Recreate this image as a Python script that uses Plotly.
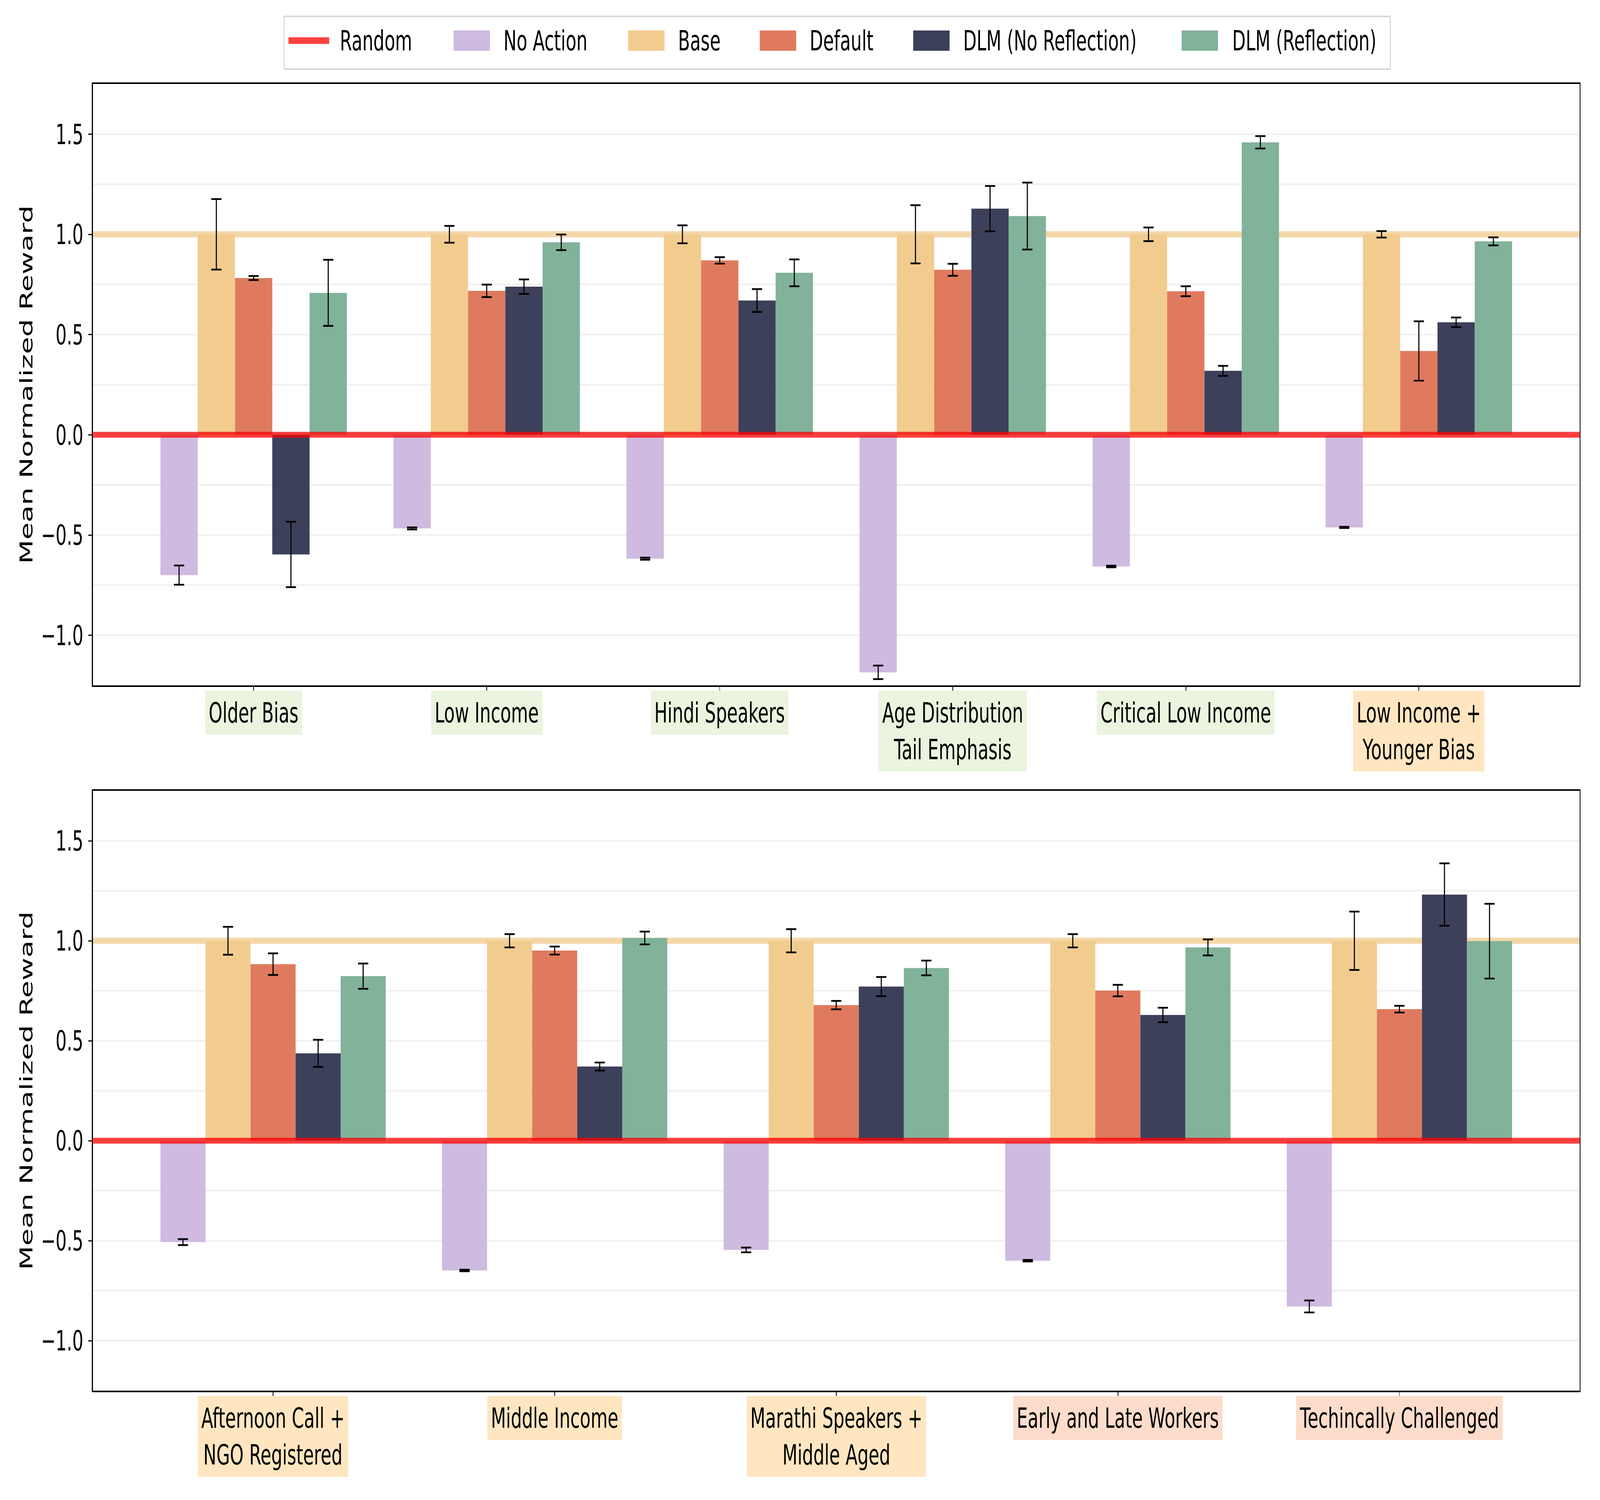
import plotly.graph_objects as go

# ---------------- data ----------------
series_names = ["No Action", "Base", "Default", "DLM (No Reflection)", "DLM (Reflection)"]
series_colors = ["#CFBAE0", "#F2CC8F", "#E07A5F", "#3D405B", "#81B29A"]

top_categories = ["Older Bias", "Low Income", "Hindi Speakers",
                  "Age Distribution\nTail Emphasis", "Critical Low Income",
                  "Low Income +\nYounger Bias"]
top_label_colors = ["#EAF4DE", "#EAF4DE", "#EAF4DE", "#EAF4DE", "#EAF4DE", "#FFE6C0"]

no_action_top = [-0.700, -0.467, -0.618, -1.185, -0.657, -0.462]
no_action_top_err = [0.048, 0.005, 0.005, 0.034, 0.004, 0.003]
base_top = [1.0, 1.0, 1.0, 1.0, 1.0, 1.0]
base_top_err = [0.176, 0.042, 0.045, 0.145, 0.034, 0.016]
default_top = [0.782, 0.718, 0.870, 0.823, 0.716, 0.418]
default_top_err = [0.010, 0.031, 0.016, 0.030, 0.025, 0.148]
dlm_noref_top = [-0.597, 0.739, 0.670, 1.128, 0.319, 0.561]
dlm_noref_top_err = [0.163, 0.036, 0.057, 0.113, 0.025, 0.024]
dlm_ref_top = [0.708, 0.960, 0.808, 1.091, 1.459, 0.965]
dlm_ref_top_err = [0.165, 0.039, 0.067, 0.167, 0.031, 0.020]

bottom_categories = ["Afternoon Call +\nNGO Registered", "Middle Income",
                     "Marathi Speakers +\nMiddle Aged", "Early and Late Workers",
                     "Techincally Challenged"]
bottom_label_colors = ["#FFE6C0", "#FFE6C0", "#FFE6C0", "#FDDCCB", "#FDDCCB"]

no_action_bot = [-0.507, -0.649, -0.546, -0.600, -0.829]
no_action_bot_err = [0.015, 0.004, 0.012, 0.004, 0.030]
base_bot = [1.0, 1.0, 1.0, 1.0, 1.0]
base_bot_err = [0.070, 0.033, 0.058, 0.033, 0.146]
default_bot = [0.883, 0.951, 0.678, 0.751, 0.658]
default_bot_err = [0.054, 0.020, 0.021, 0.029, 0.017]
dlm_noref_bot = [0.437, 0.371, 0.771, 0.629, 1.231]
dlm_noref_bot_err = [0.068, 0.020, 0.048, 0.036, 0.156]
dlm_ref_bot = [0.823, 1.014, 0.864, 0.967, 0.998]
dlm_ref_bot_err = [0.063, 0.032, 0.037, 0.040, 0.187]

random_level = 0.0
base_level = 1.0
y_ticks = [-1.0, -0.5, 0.0, 0.5, 1.0, 1.5]
grid_levels = [-1.0, -0.75, -0.5, -0.25, 0.0, 0.25, 0.5, 0.75, 1.0, 1.25, 1.5]
y_title = "Mean Normalized Reward"

# ---------------- layout geometry ----------------
W, H = 6600, 3841
ML, MR, MT, MB = 383, 84, 215, 280
PW, PH = W - ML - MR, H - MT - MB
FONT = "DejaVu Sans"
FS = 72


def px_x(X):
    return (X - ML) / PW


def px_y(Y):
    return (H - MB - Y) / PH


BAR_W = 0.16

fig = go.Figure()

panels = [
    ("x", "y", top_categories, top_label_colors,
     [no_action_top, base_top, default_top, dlm_noref_top, dlm_ref_top],
     [no_action_top_err, base_top_err, default_top_err, dlm_noref_top_err, dlm_ref_top_err]),
    ("x2", "y2", bottom_categories, bottom_label_colors,
     [no_action_bot, base_bot, default_bot, dlm_noref_bot, dlm_ref_bot],
     [no_action_bot_err, base_bot_err, default_bot_err, dlm_noref_bot_err, dlm_ref_bot_err]),
]

annotations = []
shapes = []

for xa, ya, cats, lcols, vals, errs in panels:
    xs = list(range(len(cats)))
    for k, (name, col) in enumerate(zip(series_names, series_colors)):
        fig.add_trace(go.Bar(
            x=xs, y=vals[k], name=name, xaxis=xa, yaxis=ya,
            width=BAR_W, offset=-2.5 * BAR_W + k * BAR_W,
            marker=dict(color=col, line=dict(width=0)),
            error_y=dict(type="data", array=errs[k], symmetric=True,
                         color="black", thickness=4.5, width=21),
            showlegend=False,
        ))
    # light grid (as shapes so the reference lines sit above it)
    for g in grid_levels:
        shapes.append(dict(type="line", xref=f"{xa} domain", yref=ya, x0=0, x1=1,
                           y0=g, y1=g, layer="below",
                           line=dict(color="#F0F0F0", width=4)))
    # reference lines
    shapes.append(dict(type="line", xref=f"{xa} domain", yref=ya, x0=0, x1=1,
                       y0=base_level, y1=base_level, layer="below",
                       line=dict(color="rgba(242,204,143,0.75)", width=16)))
    shapes.append(dict(type="line", xref=f"{xa} domain", yref=ya, x0=0, x1=1,
                       y0=random_level, y1=random_level, layer="above",
                       line=dict(color="rgba(255,0,0,0.75)", width=15)))
    # category labels with coloured boxes
    for i, (c, bg) in enumerate(zip(cats, lcols)):
        annotations.append(dict(
            x=i, xref=xa, y=0, yref=f"{ya} domain", yanchor="top", xanchor="center",
            yshift=-13, text=c.replace("\n", "<br>"), showarrow=False,
            bgcolor=bg, borderpad=14, align="center",
            font=dict(family=FONT, size=FS, color="black")))

# ---------------- legend (drawn to match the reference's handle sizes) ----------------
shapes.append(dict(type="rect", xref="paper", yref="paper",
                   x0=px_x(1172), x1=px_x(5735), y0=px_y(177), y1=px_y(42),
                   line=dict(color="#D6D6D6", width=4), fillcolor="white", layer="above"))
leg_y = px_y(104)
shapes.append(dict(type="line", xref="paper", yref="paper",
                   x0=px_x(1190), x1=px_x(1358), y0=leg_y, y1=leg_y,
                   line=dict(color="rgba(255,0,0,0.75)", width=17), layer="above"))
annotations.append(dict(x=px_x(1400), y=leg_y, xref="paper", yref="paper",
                        xanchor="left", yanchor="middle", text="Random", showarrow=False,
                        font=dict(family=FONT, size=FS, color="black")))
patch_x = [1871, 2591, 3134, 3767, 4874]
text_x = [2075, 2795, 3338, 3971, 5081]
for name, col, px0, tx in zip(series_names, series_colors, patch_x, text_x):
    shapes.append(dict(type="rect", xref="paper", yref="paper",
                       x0=px_x(px0), x1=px_x(px0 + 150), y0=px_y(130), y1=px_y(78),
                       line=dict(width=0), fillcolor=col, layer="above"))
    annotations.append(dict(x=px_x(tx), y=leg_y, xref="paper", yref="paper",
                            xanchor="left", yanchor="middle", text=name, showarrow=False,
                            font=dict(family=FONT, size=FS, color="black")))

# ---------------- axes ----------------
top_dom = [px_y(1755), px_y(215)]
bot_dom = [px_y(3561), px_y(2025)]


def xaxis_cfg(n, anchor):
    return dict(range=[-0.4 - 0.05 * (n - 1 + 0.8), n - 1 + 0.4 + 0.05 * (n - 1 + 0.8)],
                domain=[0, 1], anchor=anchor, tickmode="array", tickvals=list(range(n)),
                showticklabels=False, ticks="outside", ticklen=15, tickwidth=3,
                tickcolor="black", showline=True, linecolor="black", linewidth=3.5,
                mirror=True, showgrid=False, zeroline=False, fixedrange=True)


def yaxis_cfg(anchor, dom):
    return dict(range=[-1.25, 1.75], domain=dom, anchor=anchor, tickmode="array",
                tickvals=y_ticks, tickformat=".1f", ticks="outside", ticklen=15,
                tickwidth=3, tickcolor="black", ticklabelstandoff=6,
                tickfont=dict(family=FONT, size=FS, color="black"),
                showline=True, linecolor="black", linewidth=3.5, mirror=True,
                showgrid=False, zeroline=False,
                title=dict(text=y_title, standoff=12,
                           font=dict(family=FONT, size=FS, color="black")))


fig.update_layout(
    width=W, height=H,
    margin=dict(l=ML, r=MR, t=MT, b=MB, autoexpand=False),
    paper_bgcolor="white", plot_bgcolor="white",
    font=dict(family=FONT, size=FS, color="black"),
    barmode="overlay",
    showlegend=False,
    xaxis=xaxis_cfg(len(top_categories), "y"),
    yaxis=yaxis_cfg("x", top_dom),
    xaxis2=xaxis_cfg(len(bottom_categories), "y2"),
    yaxis2=yaxis_cfg("x2", bot_dom),
    shapes=shapes,
    annotations=annotations,
)

# Fit the 6600x3841 figure into whatever viewport the browser really provides
# (scale 1:1 when the window is the requested size).
post = """
var gd = document.getElementById('{plot_id}');
var wrap = gd.parentElement;
document.documentElement.style.cssText = 'margin:0;padding:0;overflow:hidden;background:white;';
document.body.style.cssText = 'margin:0;padding:0;overflow:hidden;background:white;';
function fitPlot() {
  var vw = window.innerWidth, vh = window.innerHeight;
  var sx = vw / %d, sy = vh / %d;
  gd.style.transformOrigin = '0 0';
  gd.style.transform = 'scale(' + sx + ',' + sy + ')';
  wrap.style.width = vw + 'px';
  wrap.style.height = vh + 'px';
  wrap.style.overflow = 'hidden';
}
fitPlot();
window.addEventListener('resize', fitPlot);
""" % (W, H)

fig.write_html("out.html", post_script=post, config={"displayModeBar": False})
